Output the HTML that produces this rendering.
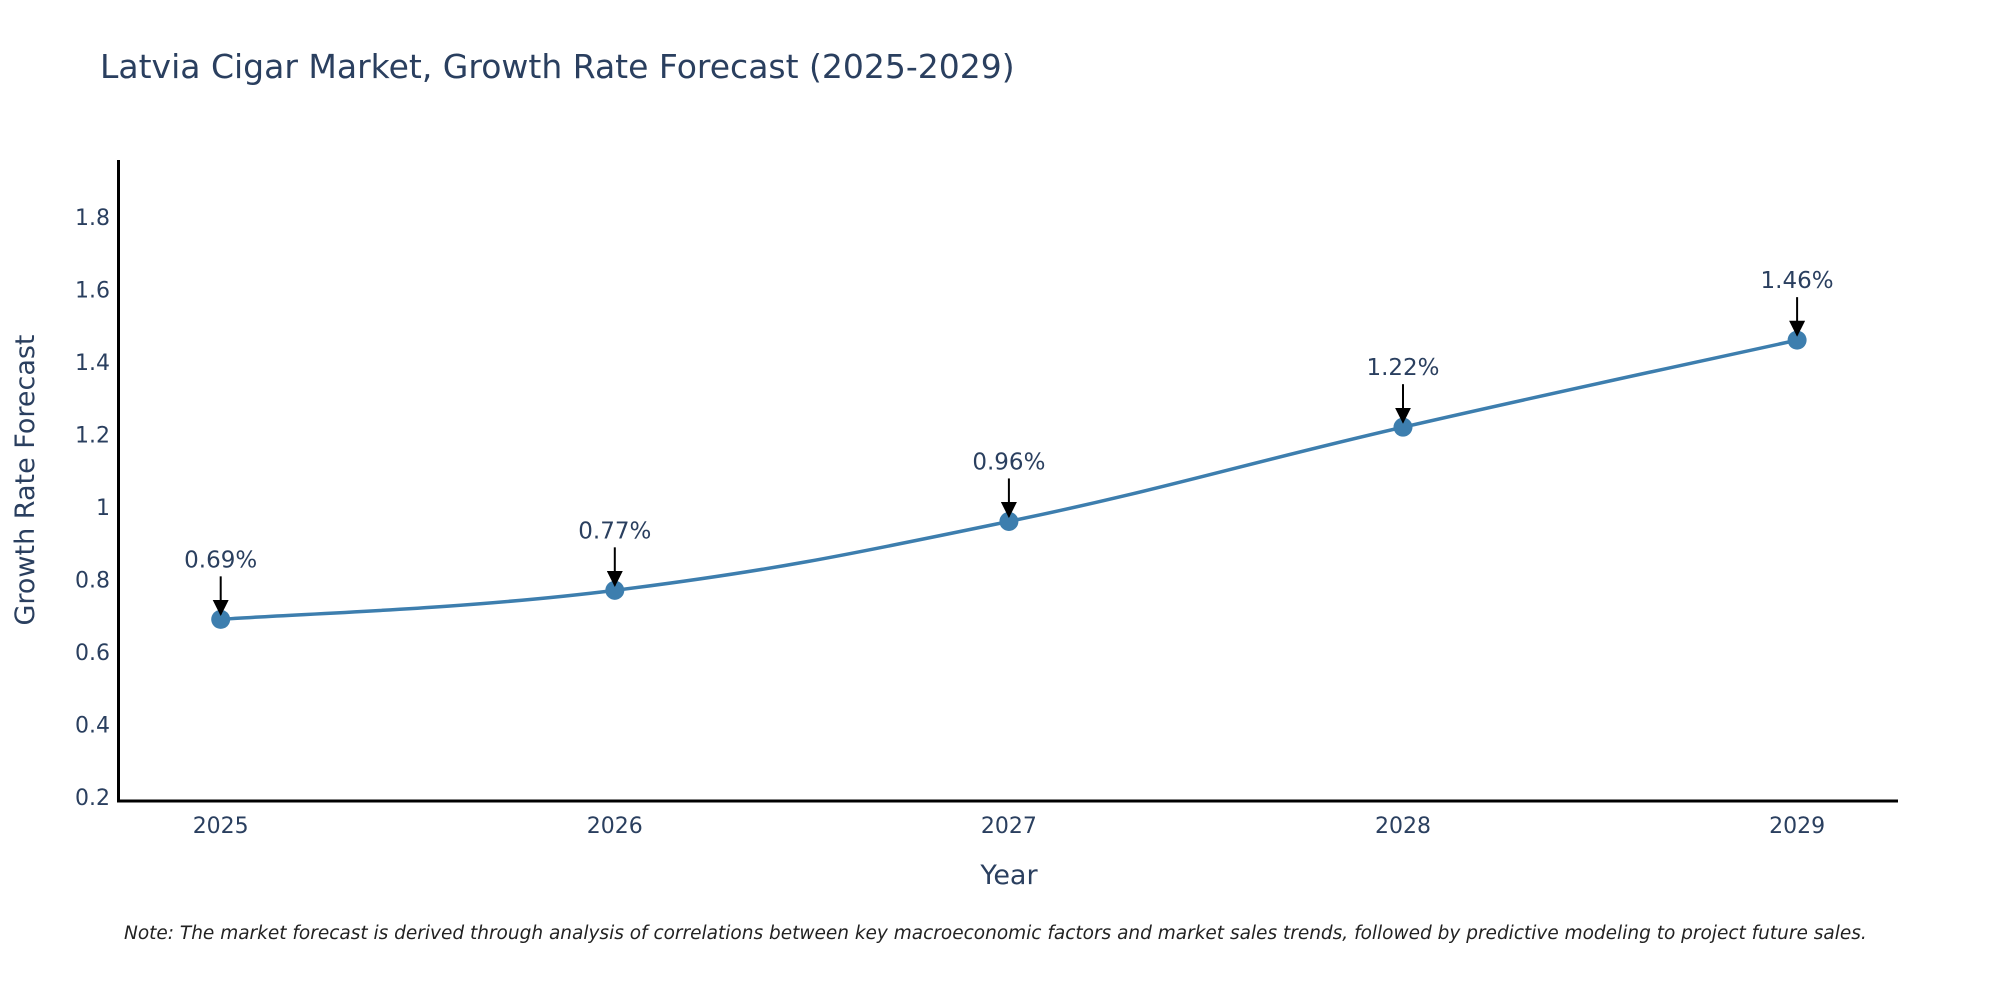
<!DOCTYPE html>
<html><head><meta charset="utf-8"><style>
body{margin:0;background:#fff;}
svg{display:block;font-family:"DejaVu Sans","Liberation Sans",sans-serif;}
</style></head><body>
<svg id="chart" width="2000" height="1000">
<text x="100" y="78" font-size="33" fill="#2a3f5f">Latvia Cigar Market, Growth Rate Forecast (2025-2029)</text>
<g id="yticks"></g>
<g id="xticks"></g>
<line x1="118.5" y1="160" x2="118.5" y2="802" stroke="#000" stroke-width="3"/>
<line x1="117" y1="801" x2="1898" y2="801" stroke="#000" stroke-width="3"/>
<path id="line" fill="none" stroke="#3d7eae" stroke-width="3.5"/>
<g id="marks"></g>
<text transform="translate(34,480) rotate(-90)" text-anchor="middle" font-size="27" fill="#2a3f5f">Growth Rate Forecast</text>
<text x="1009" y="884" text-anchor="middle" font-size="27" fill="#2a3f5f">Year</text>
<text x="124" y="939" font-size="18.5" font-style="italic" fill="#222">Note: The market forecast is derived through analysis of correlations between key macroeconomic factors and market sales trends, followed by predictive modeling to project future sales.</text>
<defs><marker id="ah" viewBox="0 0 10 10" refX="9" refY="5" markerWidth="8" markerHeight="8" markerUnits="userSpaceOnUse" orient="auto"><path d="M0,0L10,5L0,10z" fill="#000"/></marker>
<marker id="ah2" viewBox="0 0 10 10" refX="9" refY="5" markerWidth="16" markerHeight="16" markerUnits="userSpaceOnUse" orient="auto"><path d="M0,0L10,5L0,10z" fill="#000"/></marker></defs>
</svg>
<script>
const years=[2025,2026,2027,2028,2029];
const values=[0.69,0.77,0.96,1.22,1.46];
const labels=["0.69%","0.77%","0.96%","1.22%","1.46%"];
const yTicks=[0.2,0.4,0.6,0.8,1,1.2,1.4,1.6,1.8];
const NS="http://www.w3.org/2000/svg";
const xs=y=>220.7+(y-2025)*394.1;
const ys=v=>724.5-(v-0.4)*362.6;
function mk(t,a,p){const e=document.createElementNS(NS,t);for(const k in a)e.setAttribute(k,a[k]);p.appendChild(e);return e;}
const yt=document.getElementById('yticks');
yTicks.forEach(v=>{const t=mk('text',{x:110,y:ys(v)+8,'text-anchor':'end','font-size':22,fill:'#2a3f5f'},yt);


t.textContent=String(v);});
const xt=document.getElementById('xticks');
years.forEach(y=>{const t=mk('text',{x:xs(y),y:833,'text-anchor':'middle','font-size':22,fill:'#2a3f5f'},xt);


t.textContent=String(y);});
const P=years.map((y,i)=>[xs(y),ys(values[i])]);
let d='M'+P[0].join(',');
for(let i=0;i<P.length-1;i++){const p0=P[Math.max(0,i-1)],p1=P[i],p2=P[i+1],p3=P[Math.min(P.length-1,i+2)];const s=0.2;
d+=` C${p1[0]+(p2[0]-p0[0])*s},${p1[1]+(p2[1]-p0[1])*s} ${p2[0]-(p3[0]-p1[0])*s},${p2[1]-(p3[1]-p1[1])*s} ${p2[0]},${p2[1]}`;}
document.getElementById('line').setAttribute('d',d);
const g=document.getElementById('marks');
P.forEach((p,i)=>{
const c=mk('circle',{cx:p[0],cy:p[1],r:9.5,fill:'#3d7eae'},g);


const a=mk('line',{x1:p[0],y1:p[1]-43,x2:p[0],y2:p[1]-5,stroke:'#000','stroke-width':2,'marker-end':'url(#ah2)'},g);


const t=mk('text',{x:p[0],y:p[1]-52,'text-anchor':'middle','font-size':23,fill:'#2a3f5f'},g);


t.textContent=labels[i];});
</script>
</body></html>
